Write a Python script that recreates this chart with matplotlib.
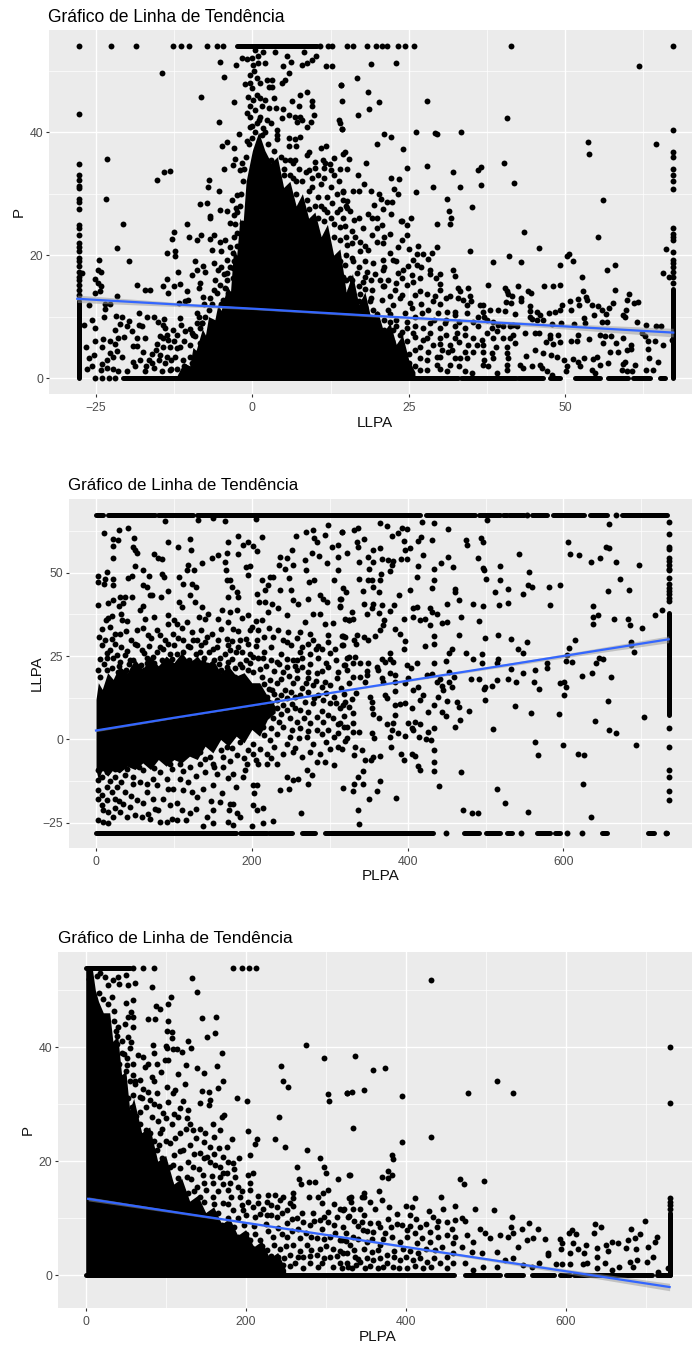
import matplotlib

matplotlib.use("Agg")
import matplotlib.pyplot as plt

plt.rcParams["font.family"] = ["Liberation Sans", "DejaVu Sans"]

W, H = 692, 1346

# ---- panel 1: LLPA x P ----
p1_points = [
    (-27.8, 43), (-27.8, 34.8), (-27.8, 33.1), (-27.8, 32.2), (-27.8, 31.3), (-27.8, 30.9), (-27.8, 29.1), (-27.8, 28.7), (-27.8, 27.5),
    (-27.8, 24.9), (-27.8, 24.4), (-27.8, 23.3), (-27.8, 21.9), (-27.8, 21.4), (-27.8, 20.6), (-27.8, 19.5), (-27.8, 19), (-27.8, 18.2), (-27.8, 17.3), (-27.8, 16.5), (-27.8, 16), (-27.8, 15.2), (-27.8, 14.4), (-27.8, 13.5),
    (-27.8, 54), (-22.6, 54), (-18.6, 54), (-12.7, 54), (-11.4, 54), (-10.1, 54), (-7.3, 54), (-5.7, 54), (-4.7, 54), (10.8, 54), (12.1, 54), (12.8, 54),
    (15.2, 54), (16.1, 54), (18.3, 54), (19.8, 54), (20.7, 54), (21.5, 54), (23.3, 54), (24.4, 54), (25.9, 54), (41.3, 54), (67.3, 54),
    (-23.2, 35.7), (-23.4, 29.1), (-14.4, 49.6), (-8.2, 45.7), (-5.3, 41.6), (-14.2, 33.5), (-13.1, 33.7), (-15.2, 32.2), (-7, 32.2), (-7.1, 31), (-5.4, 30.4), (-8.3, 28.3), (-7.3, 28.5),
    (-5.1, 51.4), (-2.6, 50.9), (-4.5, 48.9), (-2.9, 44.9), (-1.2, 47.9), (-4.9, 37.8), (-4, 38.4), (-3, 37.4), (-2.2, 39.7), (-2.7, 35.6), (-3.1, 34.7), (-4.6, 34), (-2, 33.9), (-1.7, 35),
    (-2.5, 29.8), (-3.2, 29), (-2.6, 27.6), (-5.2, 27.4), (-4.1, 27.1), (-6.8, 26.3),
    (-1.7, 52.1), (-0.9, 51.9), (0, 52), (0.9, 52.3), (2, 51.2), (0.1, 50.9), (0.9, 51.2), (0.4, 53.4), (1.7, 53.1), (3.6, 53), (0.2, 49.9), (0.7, 48.8), (-0.3, 49.3), (1.2, 48), (-0.1, 47.2), (-0.3, 48), (2.3, 48.5), (3.1, 48.5), (2.6, 47.4), (3.2, 47.3),
    (4.7, 48), (5.2, 48.5), (5.9, 49.6), (4.9, 50.8), (6.1, 51.4), (5.6, 52.3), (7.9, 50.9), (8.7, 51.3), (9.5, 51.8), (10.2, 52.3), (8.3, 53.1), (11.7, 50.7), (12.7, 50.7), (14.1, 47.7), (14.3, 45), (7.6, 46), (8.7, 46.6), (9.6, 45), (9.5, 44.3), (6.3, 45.1), (7.5, 44.2), (3.5, 45.5),
    (-0.7, 45.7), (0.7, 46.1), (0.1, 45.3), (1.2, 45.5), (2, 45.3), (-0.4, 44.2), (0.4, 43.6), (1.5, 44.2), (2.7, 43.9), (3.8, 43.9), (4.9, 43.7), (4.7, 42.3), (5.8, 42.8), (6.8, 42.5), (7.6, 42.5), (7.9, 42), (7.1, 41.7), (9.8, 42.8), (9.3, 41.6), (8.7, 40.9), (13.8, 42), (14, 41.4), (14.3, 40.5),
    (-0.9, 43.1), (-0.3, 42.5), (1.2, 42.5), (2.3, 42), (0.7, 41.5), (2.9, 41.4), (-0.4, 40.9), (1.7, 40.7), (3.9, 40.4), (5.8, 39), (6.8, 38.9), (7.6, 39.2), (7, 37.7), (5.8, 37.7), (4, 38.8), (10.9, 37.4), (11.8, 37.7), (9, 36.7), (8.7, 36.3), (14.8, 36.7), (14.5, 36.5),
    (6.8, 35.5), (6, 35.4), (5.2, 35.5), (10, 35.2), (11.3, 35.4), (11.6, 35), (12.4, 34.8), (13.1, 35.8), (10, 34.1), (11.4, 34.1), (12.5, 33.9), (9.1, 33.9), (15.2, 34),
    (5, 33), (6.5, 32.5), (8, 32), (9.5, 31), (11, 31.5), (12.5, 31), (13.8, 32), (14.5, 30.5), (7, 30), (8.8, 29), (10.5, 29.5), (12.8, 28.5), (6, 28.5), (9, 27.5), (11.5, 27.5), (13.5, 27), (15, 28), (10.5, 26), (13, 25), (14.5, 26),
    (16.8, 48.8), (14.2, 47.7), (18.5, 46.6), (20.2, 44.9), (28, 45), (18.6, 43.8), (16.9, 42.7), (40.7, 42.3), (19, 51.1), (22.9, 51.2), (61.8, 50.7), (14.4, 40.5), (21.1, 39.7), (22.1, 39.2), (26.1, 40), (29.2, 39.8), (29.6, 39.7), (33.4, 40), (67.3, 40.3),
    (19.9, 38.1), (24.1, 37.3), (53.6, 38.4), (53.8, 36.4), (64.6, 38.1), (67.3, 36.7), (67.3, 36), (67.3, 34), (67.3, 33), (67.3, 32.1), (67.3, 30.7), (15.4, 35.6), (18.2, 34.9), (28, 34.5), (24.7, 34.1), (32.1, 33.5), (36, 33.8), (36.6, 34.3), (40.2, 34.9), (16.9, 33), (22.2, 32.5), (23.4, 32.4), (17.8, 31.6), (41.9, 31.8), (28.9, 31.1), (33.2, 31), (36.5, 31.4),
    (22.7, 30.7), (23.3, 29.9), (26.2, 30.2), (16.1, 30.4), (17.1, 30.4), (19, 30.4), (20.2, 30), (14.5, 30.2), (20.5, 29.1), (21.6, 28.6), (22.4, 28.6), (31.2, 29.1), (56, 28.9), (15.2, 28.8), (19.4, 28.1), (20.9, 27.5), (35.2, 27.8), (31.5, 27.2), (15.1, 27.6), (15.6, 27.1), (18.5, 26.7), (22.2, 26.7), (31.7, 26.1), (25.3, 26), (19.1, 26), (20, 26), (16.2, 25.7), (23.8, 25.6),
    (31.6, 25.1), (29.5, 25.1), (23.9, 25.5), (24.7, 24.9), (24.7, 23.3), (17.7, 24.4), (14.8, 24.7), (20.7, 24.9), (19.9, 24.4), (19.1, 23.3), (19.9, 22.2), (20.9, 22), (17.2, 22.2), (16.4, 23), (15.1, 21.7), (18.5, 20.9), (17.2, 20.6), (23.3, 21.4), (22, 20.4), (26.5, 21.5), (29.5, 21.3), (28.8, 20.4), (27.3, 20.1), (26.4, 20.1),
    (22.5, 19.2), (20.9, 19.2), (19.3, 18.7), (16.1, 19), (14.8, 18.4), (25.7, 19.2), (28.1, 19.3), (24.9, 18.3), (26.4, 18.4), (24.1, 17.6), (23.3, 17.1), (28.4, 17.6), (32.1, 17.5), (28.4, 16.9), (32.4, 16.6), (20.9, 17.6), (18.3, 17.3), (16.7, 17.1), (19.6, 17), (14.5, 16.5), (15.6, 16.3), (17.7, 15.7), (20.4, 15.9), (21.7, 16), (23.9, 16.3), (25.5, 16.8), (26.8, 16.3), (29.4, 16.3), (25.7, 15.7), (30, 15.3), (24.7, 15.2), (32.9, 14.6), (34.5, 14.6), (26.8, 14.1), (30, 14.4), (33.2, 14.1), (22.8, 14.4), (20.9, 14.9), (19.1, 14.4), (15.6, 14.4), (17.2, 13.6), (34.8, 13.4), (27.9, 13.6), (29.2, 13.4), (31.6, 13.3), (32.9, 13), (33.7, 12.7), (23.6, 13), (20.7, 12.7), (18.8, 12.5), (28.9, 12.5), (30, 12), (25.2, 12.2), (22.5, 11.9), (15.3, 12.2), (34.3, 11.9), (36.4, 11.9), (36.9, 11.9),
    (25.5, 11.4), (28.1, 11.1), (31.1, 10.8), (32.4, 10.8), (34.3, 10.6), (36.8, 10.7), (39.3, 11.1), (19.3, 11.1), (17.2, 11.1), (21.7, 11.1), (24.4, 10.6), (27.1, 10.6), (29.7, 10.6), (32.4, 10.3), (36.1, 10), (37.5, 9.5), (35.3, 9.2), (38.5, 9.2), (22, 9.2), (24.7, 9.2), (28.4, 8.9), (30.8, 8.9), (39.3, 8.7), (41.7, 8.7),
    (32.4, 8.4), (34, 8.1), (36.1, 8.4), (38.3, 8.1), (40.1, 8.4), (41.2, 8.4), (42.3, 8.4), (30, 8.1), (27.3, 8.1), (24.7, 8.1), (22.5, 7.9), (19.3, 7.9), (32.7, 7.3), (37.5, 7.3), (39.1, 7.6), (41.7, 7), (41.2, 6.5), (40.1, 6.5), (38.5, 6.5), (35.3, 6.5), (36.7, 6.2), (28.4, 7.3), (25.7, 7.3), (23.6, 7), (20.9, 6.8), (32.4, 6.5), (30, 6.5), (27.3, 6.2), (24.7, 6), (22.3, 6), (34.5, 5.4), (35.9, 5.4), (36.9, 5.4), (42, 5.7), (40.7, 5.1), (31.6, 5.4), (28.9, 5.4), (26.8, 5.1), (19.9, 5.1), (17.2, 5.7),
    (35.3, 4.3), (36.9, 4.3), (31.3, 4.3), (30.3, 4.6), (28.1, 4.3), (26, 4.6), (23.1, 4.6), (20.9, 4.3), (38.3, 4.1), (40.7, 4.1), (34.3, 3.3), (33.2, 3.3), (32.4, 3.3), (38.5, 3.3), (40.9, 3.3), (29.5, 3.5), (26.8, 3.3), (24.1, 3.3), (22, 3.5), (18.8, 3.5), (16.7, 3.3), (36.9, 2.2), (37.7, 1.9), (40.7, 2.2), (31.6, 2.2), (29.5, 2.2), (27.9, 1.4), (24.7, 1.1), (22, 2.2), (19.9, 1.9), (17.7, 2.2), (15.1, 1.9), (34, 1.2), (35.1, 0.8), (39.1, 0.8), (40.7, 1.4), (31.1, 1.1), (26.8, 1.4),
    (43.4, 23.8), (45.8, 21.1), (55.2, 22.9), (67.3, 24.4), (67.3, 23.5), (67.3, 23), (67.3, 22.5), (66.1, 21), (67.3, 20.5), (67.3, 19.2), (67.3, 18.7), (67.3, 18), (67.3, 17.2), (67.3, 16.5), (67.3, 15.5), (34.8, 20.6), (38.5, 18.9), (41, 19.8), (43, 18.9), (49.2, 18.4), (50.3, 19.8), (50.7, 20.2), (51.2, 19.1), (56.7, 17.6), (58, 18.4), (52.7, 16.5), (65.6, 17.1), (66.6, 16.5),
    (37.7, 15.2), (40.4, 14.7), (40.7, 14.1), (42.5, 14.9), (44.1, 14.2), (44.5, 13.8), (46.6, 14.9), (48.1, 14.9), (49.2, 15.2), (52.8, 14.1), (58, 14.3), (60.2, 13.7), (40.9, 13.6), (41.5, 13.4), (40.5, 12.4), (41.3, 12.2), (42.9, 13), (42.9, 12.5), (44.4, 11.7), (49.5, 11.9), (50.8, 12.5), (52, 12.8), (52.3, 11.9), (53.3, 13.2), (53.5, 12.7), (54.3, 11.9), (55.2, 11.7), (55.9, 11), (57.1, 11.4), (57.6, 12.2), (59.9, 12.7), (61, 12.2), (61.6, 12.4),
    (40.4, 10.9), (42, 10.5), (44.4, 10.9), (44.4, 10), (45.5, 10.7), (46, 10.3), (47.4, 10.6), (48.4, 10.7), (49.2, 11), (50.9, 11.1), (54.7, 10.3), (56.6, 10.5), (59.8, 11), (59.2, 10.3), (59.6, 9.9), (44.7, 9.6), (45.5, 9.5), (46.5, 9.4), (47.9, 8.8), (49.4, 8.9), (51.5, 8.8), (53.1, 9.8), (53.2, 8.9), (55.9, 9.1), (56.7, 9.1), (61.5, 9.1), (62.9, 8.6), (64.6, 8.4), (65.3, 8.4),
    (43.6, 7.3), (45.2, 7.3), (45.8, 7.3), (47.6, 7), (48.8, 7), (47.6, 6.5), (47, 5.8), (48.1, 5.6), (49.2, 5.8), (51, 6), (51.9, 6), (52, 7), (53.9, 6.3), (55.6, 7), (56.4, 6.8), (57.3, 6.9), (58.2, 5.7), (59.2, 6.5), (60.6, 5.4), (60.6, 4.7), (62.3, 7.3), (62.8, 6.8), (63.3, 6.1), (64.4, 6), (65.7, 5.4), (67.1, 6.2), (56.1, 5.7), (57.2, 4.3), (58.5, 4.2), (59.9, 4.5), (63.2, 4.7), (63.5, 3.3), (64.8, 2.7),
    (43.8, 3.6), (45.2, 4.6), (46.5, 4.1), (47.7, 3.8), (48.7, 3.5), (49.8, 3), (51.2, 3.1), (52.1, 2.7), (53.1, 3.3), (54.5, 3.1), (55.1, 3.5), (56.8, 2.5), (59.6, 2.7), (59.3, 2.3), (42.8, 2.2), (43.2, 1.6), (44.7, 1.9), (46, 2.2), (46.3, 1.6), (47.1, 1.1), (47.9, 0.5), (50.3, 1.9), (50.2, 1.1), (52.4, 1.9), (54.3, 1.4), (54.8, 0.8), (55.6, 2.2), (59.1, 1.4), (59.9, 1.2), (61.2, 2.2), (60.7, 1.2), (63, 1.4), (64, 1.4),
    (-20.7, 25.1), (-21.7, 21.1), (-24.5, 19.2), (-19.7, 19.1), (-27.2, 17.1), (-24.7, 17.5), (-24.2, 17.2), (-25.2, 16.1), (-24.7, 15.4), (-24.2, 14.9), (-25.2, 13.9), (-24.4, 14.2), (-21.7, 13.3), (-26.1, 11.9), (-23.5, 12.1), (-22.8, 12.1), (-23.6, 11.2), (-23.7, 9.9), (-25.7, 9.4), (-27, 8.6), (-25.1, 8.1), (-21.8, 10.1), (-20.8, 9.9), (-19.7, 9.3), (-18.1, 10.6), (-21.2, 8.8), (-22, 7.8), (-20, 8.4), (-19.3, 7.6), (-18.1, 8.7), (-17.7, 8.4), (-16.8, 9.9), (-15.8, 9.9), (-15.1, 9.2), (-14.1, 9.6), (-14.3, 8.7), (-13.9, 8.1), (-12.7, 7.8), (-13.7, 7), (-14.8, 6.9), (-14.3, 6.5), (-13.5, 6.2), (-11.6, 9.8), (-11.4, 8.7), (-10.7, 7.6), (-9.7, 7.3), (-9.2, 6.8), (-8.9, 10.6), (-8.5, 10), (-8.9, 8.9), (-8.1, 8.9), (-8.4, 8.1),
    (-25.2, 6.1), (-26.6, 5), (-23.9, 6.3), (-24.1, 5.1), (-22.8, 6), (-22, 5.6), (-21.5, 6.5), (-20.5, 6.7), (-18.4, 6.5), (-17.2, 6.5), (-19.1, 5.3), (-18.4, 5.3), (-17.5, 4.3), (-15.3, 5.6), (-15.4, 4.6), (-14.3, 5.1), (-13.2, 5), (-12.1, 4.9), (-10, 5.4), (-8.4, 5.7), (-25.3, 3.8), (-26.2, 3.3), (-22.8, 4.1), (-21.7, 4.4), (-22.3, 3.5), (-20.8, 3.4), (-23.3, 3), (-24.1, 2.3), (-19.1, 2.7), (-18, 2.9), (-18.8, 1.9), (-16.1, 2.4), (-14.8, 3.8), (-13.7, 3.5), (-12.4, 3.5), (-11.1, 3), (-9.7, 2.4), (-8.9, 4.1), (-26.5, 1.5), (-25.7, 1.9), (-24.2, 1.4), (-23.3, 1.6), (-22.3, 1.5), (-21.5, 1.1), (-20, 1.1), (-17.2, 1.1), (-15.8, 1.6), (-14.5, 1.2), (-13.2, 1.4), (-12.1, 1.5), (-10.8, 1.4), (-9.5, 0.8), (-7.3, 1.6), (-5.7, 1.9),
    (-25.2, 0), (-24.1, 0), (-23, 0), (-22, 0),
    (-10.4, 25.1), (-12.5, 23.8), (-12.8, 22.6), (-10.1, 23), (-8.8, 22.5), (-8.2, 23.3), (-13.7, 20.4), (-12.4, 20.7), (-12.3, 19.8), (-9.1, 19), (-6.8, 26), (-6.1, 23.3), (-6.8, 22.6), (-6.4, 20.9), (-5.2, 22.2), (-4.4, 22.5), (-3.6, 21.4), (-5, 20.6), (-4.1, 19.2), (-6.2, 18.7), (-7.9, 18.2), (-8.8, 17.5), (-11.9, 17.2), (-9.7, 16.7), (-7.5, 17.3), (-13.6, 16.1), (-11.6, 15.3), (-8.4, 15.4), (-14.3, 14.9), (-12.6, 15), (-13.5, 13.9), (-8.6, 14.6), (-10.5, 14.1), (-6.2, 14.4), (-5.2, 15.2), (-4.4, 14.6), (-5.7, 13.8), (-18.5, 15.2), (-17.1, 14.4), (-16.4, 14.4), (-10.3, 12.7), (-7.9, 13.2), (-6.8, 13), (-7.7, 12), (-11.8, 12.2), (-10.8, 12.5), (-4.1, 17.1), (-3.1, 17.9), (-3.1, 16.3), (-2, 18.7), (-3.6, 25.2), (-2.5, 23.6), (-1.7, 25.2), (-3.1, 20.3), (-3.9, 13.8), (-4.7, 12.7),
]
p1_extra = [
    (-6, 16), (-5.5, 17.5), (-5, 18), (-4.5, 17), (-4, 16), (-3.5, 18), (-3, 19), (-5, 12), (-6.5, 12), (-7, 11), (-7.5, 10), (-8, 9), (-9.5, 7), (-10, 8), (-11, 6), (-11.5, 5), (-12, 7), (-12.5, 6), (-13, 3), (-11, 2), (-10, 3.5), (-9, 2), (-8, 3), (-7.5, 5), (-16, 4), (-16.5, 3), (-17, 2), (-15, 3), (-14, 2.5), (-13, 1.5),
    (-3, 23), (-2.8, 25), (-2.5, 27), (-2.5, 21.5), (-3, 26.5), (-2, 28), (-1.8, 30), (-1.5, 32), (-1.3, 34), (-1, 36), (-0.5, 38), (0, 39), (0.5, 40), (1.5, 39.5), (2.5, 38), (3.5, 37), (3, 35.5), (4.5, 36), (5, 34), (6, 33), (7, 32), (4, 39.5), (0, 41), (-0.8, 38.5), (1, 42), (2, 40),
    (6.5, 35), (7.5, 34), (8.5, 33.5), (9.5, 32.5), (10.5, 33), (11.5, 32.5), (13, 33), (14, 34), (12, 29.5), (13.5, 30), (14.5, 29), (9, 30.5), (10, 28), (11, 28), (12, 27), (14, 27.5), (11.5, 25.5), (12.5, 26), (14, 24.5), (15, 23), (16, 22), (14, 22.5), (13, 23), (15, 20), (16, 19.5), (14, 19), (16, 16), (17, 15), (18, 14.5), (15, 16), (17, 18), (18, 19), (19, 16), (19, 13), (17, 12.5), (18, 11.5), (20, 10.5), (21, 9.5), (19, 9.8), (22, 10.5), (23, 9.5), (20, 8), (21, 7.8), (23, 8.5), (24, 7.5), (26, 8.5), (22, 5), (21, 3), (23, 2.5), (25, 2.5), (26, 2), (28, 3), (30, 1.5), (33, 2), (25, 4), (28, 6.5), (30, 5.5), (32, 4.5), (34, 4.3), (26, 6.7), (31, 7), (33, 5.8), (29, 9.5), (31, 9.5), (33, 9.2), (26, 10), (27, 12), (24, 13.5), (26, 13.5), (22, 13.3), (21, 15), (23, 15.5), (18, 16.5), (25, 21), (24, 22.5), (22, 23.5), (27, 18), (30, 17), (31, 13), (35, 12.5), (37, 10), (38, 11), (30, 3.5), (37, 3), (39, 5), (34, 7), (21, 18), (18, 21.5), (16, 24), (17, 26), (21, 23), (23, 19),
]
p1_band_x = [-12, -11, -10, -9.5, -9, -8, -7.5, -7, -6, -5.5, -5, -4, -3.5, -3, -2.5, -2, -1.5, -1, 0, 1, 2, 3, 4, 5, 6, 7, 8, 9, 10, 11, 12, 13, 14, 15, 16, 17, 18, 19, 20, 21, 22, 23, 24, 25, 26]
p1_band_hi = [0.5, 2.5, 2, 5, 4.5, 8, 7, 10, 9.5, 12, 11, 15, 14, 21, 20, 26, 25, 32, 37, 40, 37, 35, 36, 31, 32, 28, 30, 26, 27, 23, 25, 20, 21, 14, 17, 12, 14, 9.5, 11, 7.5, 9, 5.5, 7, 3, 1]
p1_rows_y = [0, 0, 0, 0, 0, 0, 0, 0, 54]
p1_rows_start = [-20.7, 33.3, 42.5, 47.6, 51.6, 56.9, 60.9, 65.2, -2.5]
p1_rows_end = [32.9, 42.2, 46.5, 49.2, 55.6, 60.1, 63.6, 66, 10.3]
p1_cols_x = [-27.8, 67.3]
p1_cols_start = [0, 0]
p1_cols_end = [12.5, 14.5]
p1_trend_x = [-28, -10, 0, 20, 45, 67.3]
p1_trend_y = [12.9, 11.85, 11.3, 10.1, 8.7, 7.4]
p1_trend_se = [0.6, 0.3, 0.15, 0.2, 0.35, 0.7]

# ---- panel 2: PLPA x LLPA ----
p2_points = [
    (88.6, 65.5), (131, 65.7), (150.7, 66.4), (165.7, 65.5), (205.5, 66), (10.7, 61.7), (29.5, 62.7), (41.5, 63.3), (48.8, 60.2), (22.3, 59.9), (28.7, 59.7), (22.3, 57.9), (92, 59.2), (104.9, 57.7), (120.7, 59.9), (121.6, 56.7), (47.1, 57.7), (50.1, 56.7), (53.1, 55.9), (74.5, 55.4), (80, 54.2), (84.3, 54), (21.4, 54.3), (50.1, 51.9), (14.6, 50.2), (60.8, 50.7), (2.1, 49.1), (68.1, 49), (84.3, 49.7), (87.3, 48.7), (41.5, 48.5), (45.8, 48.9), (106.6, 48.7), (3, 47.2), (11.6, 48.2), (10.3, 46.7), (21.4, 48.2), (22.3, 46.2), (60.8, 46.2), (65.1, 45.7), (112.2, 46.5), (123.7, 46.7), (128.4, 45.7), (92.9, 44.5), (69.3, 43.4), (72.3, 43.2), (83.5, 42.7), (120.7, 43.2), (22.3, 41.9), (15.8, 40.9), (30.8, 42.7), (37.2, 42.7), (45.8, 42.7), (2.1, 40.3), (29.5, 39.9), (34.2, 40.9), (56.5, 38.7), (60.8, 39.9), (107, 41.2), (110, 39.7), (127.1, 41.2), (135.7, 39.7), (31.7, 37.7), (20.1, 36.9), (12.4, 35.9), (92.9, 37.2), (62.9, 36.2), (33, 35.7), (132.3, 36.7), (144.3, 37.7), (157.1, 36.2), (161.4, 38.7), (172.1, 38.2), (180.7, 38.7), (195.6, 37.2),
    (169.1, 59.2), (182.8, 61), (189.2, 58.2), (195.6, 59.2), (202, 57.9), (212.7, 60.7), (207.2, 56.4), (182.8, 55.4), (167.8, 55.7), (165.7, 53.2), (157.1, 55.2), (149.4, 54.2), (135.7, 52.7), (117.7, 52.2), (116.4, 50.9), (125.9, 50.9), (166.5, 50.7), (192.6, 51.7), (197.8, 51.9), (194.8, 49.4), (167.8, 47.9), (172.1, 47.9), (174.2, 45.7), (180.7, 44.2), (170, 42.7), (182.8, 42.7), (206.7, 43.5), (209.7, 41.2), (212.7, 47.9), (223.4, 48.7), (227.7, 48.7), (221.3, 46.2), (217, 44.7), (236.3, 44.7), (217, 41.2), (225.6, 40.7), (234.2, 39.5), (221.3, 38.2), (212.7, 35.7), (236.3, 54.7), (235.4, 52.2), (244.9, 54.2), (242.8, 51.2), (253.4, 52.2), (251.3, 56.7), (256.8, 61), (269.7, 62.2), (279.1, 62.7), (280, 60.2), (294.1, 61.2), (298.4, 64.2), (315.5, 62.2), (284.1, 59.2), (311.2, 58.2), (303.5, 57.5), (277, 55.7), (285.6, 54.9), (310.3, 54.7), (321.9, 55.7), (268.4, 53.7), (296.6, 52.9), (269.7, 50.9), (311.2, 50.7), (248.2, 48.5), (273.9, 47.2), (280.3, 47.7), (305.1, 47.7), (250.3, 44.7), (272.7, 42.2), (287.7, 43.2), (292, 42.2), (313.3, 42.2), (253.4, 41.9), (259.8, 40.7), (297.1, 41.2), (313.3, 39.7), (244.9, 37.2), (278.3, 37.7), (287.7, 37.7), (268.4, 35.2), (304.3, 34.9), (293.6, 34.5), (324.1, 35.7),
    (234.2, 32.7), (247, 32.2), (262, 32.2), (274.8, 31.7), (279.1, 29.7), (272.7, 28.7), (227.7, 30.7), (244.9, 29.2), (298.4, 31.2), (317.6, 30.9), (298.4, 29.2), (316, 28.2), (307.4, 27.2), (290.5, 27), (281.8, 27.2), (264.5, 24.3), (253.4, 23.8), (232, 23.3), (298.4, 21.8), (321.9, 24.3), (244.9, 21.8), (264.5, 21.8), (283.6, 19.8), (294.1, 17.3), (309.1, 18.3), (272.7, 18.3), (253.4, 16.8), (264.5, 15.3), (279.1, 16.3), (289.8, 15.8), (232, 16.8), (242.8, 14.8), (223.4, 17.8),
    (18, 33.7), (24.4, 31.7), (30.8, 31.7), (3.4, 30.7), (11.6, 29.7), (24.4, 28.7), (18, 26.7), (26.5, 25.2), (37.2, 25.2), (13.7, 24.3), (30.8, 23.3), (43.7, 23.8), (52.2, 28.2), (67.2, 31.2), (52.2, 32.7), (82.2, 31.2), (58.6, 26.7), (73.6, 24.7), (92.9, 28.7), (99.3, 31.7), (103.6, 34.7), (92.9, 34.7), (116.4, 35.2), (112.2, 29.7), (86.5, 27.2), (103.6, 25.7), (122.9, 32.2), (129.3, 29.7), (120.7, 27.7), (140.4, 29.2), (133.6, 26.2), (148.5, 31.7), (157.1, 29.7), (150.7, 27.2), (167.8, 30.2), (176.4, 33.2), (184.9, 29.7), (197.8, 32.7), (208.5, 32.7), (195.6, 28.7), (206.7, 29.7), (172.1, 26.7), (187.1, 26.2), (202, 24.7), (214.9, 24.3), (159.2, 24.3), (137.8, 23.3), (116.4, 22.3), (90.8, 21.8), (65.1, 22.8), (52.2, 21.8), (28.7, 20.3), (13.7, 20.8), (3, 20.8), (5.1, 18.8), (187.1, 21.8), (167.8, 21.8), (146.4, 21.3), (202, 20.3), (212.7, 18.8), (178.5, 18.8), (155, 18.8), (133.6, 19.8),
    (225.6, 14.8), (219.2, 12.8), (232, 11.8), (244.9, 12.3), (255.6, 12.8), (232, 9.3), (244.9, 8.8), (262, 8.8), (279.1, 10.8), (300.5, 10.8), (313.3, 9.3), (304.3, 6.3), (283.6, 6.8), (266.4, 6.3), (249.1, 6.3), (227.7, 6.3), (214.9, 3.8), (240.6, 3.8), (262, 3.3), (283.6, 2.8), (298.4, 2.8), (321.9, 3.8), (311.2, 1.8), (270.6, 0.8), (249.1, 0.8), (223.4, -0.2), (202, -1.2), (184.9, -0.7), (167.8, -2.2), (150.7, -1.7), (133.6, -3.7), (146.4, -5.2), (163.5, -5.2), (180.7, -4.7), (202, -4.2), (219.2, -4.2), (240.6, -4.2), (253.4, -3.7), (264.1, -5.2), (287.7, -4.2), (311.2, -2.2), (306, -7.7), (283.4, -6.7), (294.1, -6.7), (270.6, -9.2), (277, -10.7), (272.7, -13.2), (253.4, -12), (259.8, -11.7), (244.9, -11.2), (232, -7.2), (219.2, -7.2), (208.5, -7.2), (193.5, -7.2), (191.4, -9.2), (176.4, -10.2), (189.2, -11.2), (163.5, -8.2), (150.7, -7.2), (133.6, -7.2), (120.7, -8.2), (107.9, -7.2), (95, -7.2), (82.2, -9.7), (90.8, -11.7), (107.9, -11.7), (118.6, -12.7), (99.3, -14.7), (123.7, -15.7), (137.8, -14.7), (150.7, -13.7), (161.4, -16), (179.8, -14.2), (202, -13.7), (206.3, -13.7), (203.3, -16), (236.3, -15.2), (248.3, -14.9), (158.9, -18.7), (172.1, -19.2), (176.4, -19.2), (171.2, -21.2), (180.7, -22), (184.9, -23.2), (202, -19.7), (206.3, -21.2), (214.9, -20.4), (263.3, -22), (214.9, -25.1), (226.9, -24.4), (199.9, -25.9), (170, -24.6), (176.4, -25.6), (150.7, -25.1), (142.1, -23.2), (137.8, -26), (115.6, -24), (120.7, -22), (103.6, -19), (103.6, -24.2), (97.2, -23.7), (90.8, -24.7), (82.2, -24.7), (75.8, -20.7), (67.2, -22.2), (58.6, -23.2), (69.3, -23.7), (65.1, -15.7), (56.5, -12.7), (65.1, -13.2), (53.1, -18.2), (43.7, -20.2), (39.4, -23.2), (30.8, -21.7), (22.3, -23.2), (15.8, -25.1), (3, -24), (9.4, -24.7), (15.8, -21.7), (9.4, -21.2), (13.7, -18.2), (24.4, -17.7), (37.2, -15.7), (26.5, -14.2), (13.7, -14.2), (3, -15.2), (3, -12.2), (3, -9.2), (13.7, -9.7), (24.4, -11.2), (37.2, -10.7), (47.9, -11.2), (60.8, -9.2), (73.6, -11.7), (86.5, -17.7), (73.6, -17.7), (35.1, -19.2), (3, -17.7),
    (364.7, 64.7), (373.2, 63.9), (418.2, 65.2), (433.2, 64.7), (501.7, 65.7), (657.9, 64.4), (315.4, 62.2), (331.3, 62.7), (336.8, 63.2), (379.7, 61), (388.2, 61.7), (392.5, 63.2), (398.9, 63), (452.4, 63), (417.3, 60.7), (413, 59.4), (395.9, 59.4), (431.9, 59.7), (344.1, 59.9), (335.6, 59.2), (336.8, 57.5), (355.3, 56.7), (364.7, 57.2), (396.8, 56.7), (403.2, 57.2), (474.7, 59.7), (476.8, 58.2), (494, 60.4), (496.5, 59.2), (605.2, 59.2), (608.7, 55.5), (619.4, 55.2), (654.5, 57.5), (657.9, 57.2), (543.2, 55.5), (338.1, 53.2), (349.7, 54.7), (356.1, 53.2), (366.8, 53.9), (374.5, 53.7), (381.8, 53.5), (391.2, 53.9), (399.8, 54), (419.5, 55.2), (452.4, 54.7), (490.1, 54.4), (635.2, 53), (647.2, 54.2), (667.3, 53.2), (697.3, 52.2), (413.9, 51.9), (442.6, 52.7), (458, 51.5), (433.2, 51), (496.5, 51.4), (498.2, 50.9), (518.8, 51.9), (379.7, 52.2), (377.5, 50.5), (350.5, 51), (366, 49.7), (556, 50.2), (412.6, 48.7), (338.1, 48.2), (349.7, 47.9), (354, 47.7), (364.7, 47.7), (434.4, 47.7), (500.4, 48), (518.8, 47.7), (672, 48.2), (355.3, 45.7), (316.7, 45.4), (321, 44.2), (343.3, 44.5), (363.8, 44.2), (389.5, 43.4), (402.8, 44.9), (431.9, 45.4), (460.6, 45.2), (460.6, 44.2), (511.5, 44.2), (528.6, 45.2), (553.9, 46.2), (559.4, 45.7), (580.9, 45.7), (595.4, 46.2), (656.6, 44.5), (684, 44.9), (548.7, 43.7),
    (314.2, 42.2), (313.3, 39.9), (344.5, 40.7), (356.1, 40.7), (354, 39.5), (366.8, 40.2), (382.6, 40.4), (466.1, 41.7), (451.1, 40.7), (484.5, 40.7), (496.5, 39.9), (517.9, 40.4), (528.6, 41), (582.1, 40.4), (637.4, 39.9), (406.6, 39.4), (412.6, 39.7), (428.9, 39.4), (377.5, 38.5), (363.8, 37.9), (347.5, 37.5), (431, 38.2), (437.4, 37.7), (328.3, 38.2), (330.4, 36.2), (319.7, 36.2), (325.3, 35.7), (395.9, 36.2), (407.5, 36.7), (416, 35.7), (422.5, 36.2), (468.7, 36.7), (450.3, 35.2), (443.9, 35), (492.2, 35.4), (637.4, 36.7), (644.2, 37.4), (664.3, 36.2), (682.7, 36.2), (637.4, 34.7), (684.9, 34.2), (700.7, 33.4), (717.4, 37.4), (726.4, 38.7),
    (370.2, 35.7), (369, 34.2), (364.7, 32.9), (358.2, 31), (383.9, 33), (390.4, 31.7), (428.9, 34.4), (433.2, 31), (466.1, 31.4), (498.7, 30.4), (516.6, 31.2), (533.3, 30), (552.6, 29.2), (614.7, 29.7), (686.6, 29.2), (334.7, 31.2), (344.1, 30.7), (349.7, 29.7), (331.3, 29.7), (333.8, 28.5), (315.4, 30.9), (319.7, 30.7), (316.7, 28.2), (396.8, 29.5), (395.9, 27.2), (434, 28.7), (422, 27.9), (456.7, 27.2), (453.3, 25.9), (474.7, 25.9), (495.2, 25.7), (541.9, 27), (548.7, 26), (606.5, 27.4), (604.4, 25.2), (686.6, 28.2), (690, 26.2),
    (324.9, 24.6), (332.6, 24.7), (377.5, 25.9), (377.5, 24.2), (366.8, 24.2), (371.1, 23.3), (381.8, 23.3), (484.5, 24), (516.6, 24.2), (514.5, 22.8), (495.2, 22.8), (449.4, 23.6), (433.2, 23), (411.7, 22.8), (398.9, 22.3), (404, 21.3), (349.7, 23), (339, 22.8), (319.7, 22.3), (330.4, 22.8), (360.4, 21.8), (362.5, 20.8), (347.5, 20.5), (321.9, 20.8), (645.1, 24.4), (650.6, 24), (642.1, 22.9), (603.1, 23.5), (610.8, 23.1), (578.7, 22.8), (578.7, 21.5), (563.7, 20.8), (532.1, 21), (547.5, 19.8), (636.5, 19.8), (623.7, 18.9), (661.3, 18.6),
    (377.5, 19.8), (384, 19.3), (366.8, 18.3), (369, 17.3), (347.5, 19.3), (339, 18.8), (330.4, 18.6), (345.4, 17.3), (424.6, 19.3), (431.9, 19.5), (453.3, 20.3), (458.9, 18.8), (441.7, 18), (437.4, 17.1), (453.3, 17.3), (481.5, 18.1), (492.2, 18.1), (514.5, 17.8), (528.2, 18.1), (539.3, 17.3), (561.6, 17.3), (401.1, 18.3), (396.8, 16.8), (384, 17.3), (443.9, 16), (446, 14.8), (456.7, 15.8), (413.9, 15.6), (407.5, 14.8), (384, 14.6), (499.5, 15.8), (497.4, 15), (508.1, 16), (568, 15), (595, 16.8), (601, 17.1), (603.5, 15.6), (600.1, 13.4), (333.4, 13.8), (351.8, 12.8), (354, 11.3), (371.1, 13.3), (373.2, 12.3), (420.3, 13.3), (416, 11.8), (439.6, 12.8), (451.1, 11.5), (464, 11.3), (465.3, 9.8), (498.7, 11.8), (656.6, 11.5),
    (319.7, 11.3), (316.7, 10.3), (354.8, 9.3), (384, 10.3), (390.4, 10.5), (396.8, 10.8), (405.3, 9.3), (426.7, 8.3), (434, 10.3), (443.9, 8.3), (479.4, 8.6), (538, 10), (558.2, 7.8), (594.1, 7.5), (384, 7.3), (329.6, 7.8), (356.1, 7.5), (449.4, 7), (362.9, 6.3), (467.4, 5.8), (702.9, 6.6), (640.8, 5.6), (313.3, 4.8), (318.4, 3.8), (329.6, 4.8), (373.2, 4.5), (381.8, 4.8), (401, 4.8), (409.6, 5.3), (416, 4.6), (405.3, 3.3), (379.7, 2.8), (388.2, 1.8), (396.8, 1), (407.5, 2.8), (433.2, 3.3), (425.5, 2.1), (460.6, 3.6), (509.4, 3), (657.9, 2.7), (667.3, 1.9), (330.4, 2.1), (337.7, 2.1), (354, 1.8), (377.5, 0.8), (357.4, 0.3), (414.8, 0.6), (423.7, 0), (429.7, -0.2), (322.7, 0.3),
    (316.3, -2.7), (332.6, -2.2), (341.1, -3.2), (331.3, -4.5), (379.2, -2.2), (433.2, -3.2), (563.3, -0.9), (598.8, -1.7), (693.4, -1.5), (392.1, -4.2), (405.3, -4.2), (409.6, -4.9), (356.1, -5.2), (364.7, -4.9), (352.7, -6.2), (345.4, -6.2), (395.5, -6.2), (433.2, -6.7), (566.7, -4.5), (618.1, -4.3), (625.8, -4.5), (413.9, -8), (416, -9.2), (433.2, -9.5), (468.7, -9.8), (343.3, -9.5), (336.8, -11.2), (364.7, -12.3), (331.3, -13.2), (343.3, -13.2), (316.7, -14.5), (329.6, -15.4), (361.2, -15.4), (440, -14), (514.1, -14.9), (625.4, -13.4), (384.8, -17.4), (350.1, -17.9), (524.8, -19), (336, -21), (471.3, -21), (483.2, -21.9), (490.1, -22), (554.7, -21.8), (634.8, -23.2), (338.1, -25.4),
    (735, 65.2), (735, 61.4), (735, 57.5), (735, 57), (735, 54.2), (735, 53.5), (735, 52.2), (735, 51), (735, 50.7), (735, 48.5), (735, 46.7), (735, 45.5), (735, 44.5), (735, 43.5), (735, 42.5), (735, 41.5), (735, 3.3), (735, -2.2), (735, -9), (735, -11.2), (735, -15.4), (735, -18.2), (731, -27.9), (449, -27.9), (545, -27.9), (604, -27.9), (624, -27.9), (667, 67.2), (553, 67.2),
]
p2_extra = [
    (15, 36.3), (40, 35.4), (75, 36.6), (100, 35.8), (140, 36.1), (170, 35.2), (188, 36.4), (205, 35.6), (8, 33.2), (38, 32.6), (60, 33.4), (78, 32.9), (110, 33.5), (135, 32.8), (160, 33.1), (182, 32.4), (200, 33.6), (222, 33.3),
    (20, 30.2), (45, 29.7), (70, 30.4), (88, 29.8), (105, 30.3), (125, 29.9), (142, 30.6), (175, 29.6), (192, 30.2), (215, 30.7), (240, 29.8), (258, 30.3), (8, 28.3), (32, 27.8), (50, 28.5), (68, 28), (82, 27.7), (100, 28.3), (118, 27.9), (135, 28.4), (155, 27.8), (170, 28.3), (182, 27.6), (205, 28), (225, 27.7), (250, 28.2), (265, 27.6), (285, 28),
    (14, 26), (40, 26.4), (62, 25.8), (78, 26.3), (95, 25.7), (112, 26.2), (128, 25.6), (145, 26.1), (165, 25.7), (180, 26.2), (198, 25.6), (215, 26.1), (238, 25.7), (262, 26.2), (275, 25.6), (300, 26), (5, 24), (22, 24.4), (48, 23.8), (65, 24.3), (85, 23.7), (98, 24.2), (120, 23.8), (138, 24.4), (152, 23.8), (175, 24.2), (192, 23.7), (208, 24.3), (225, 23.8), (245, 24.2), (258, 23.7), (285, 24.3), (308, 23.8),
    (10, 22.5), (30, 22), (42, 22.7), (58, 22.2), (75, 22.8), (92, 23), (108, 22.3), (125, 22.8), (140, 22.2), (158, 22.7), (170, 23.2), (185, 22.5), (198, 22.8), (218, 22.1), (235, 22.6), (255, 22), (275, 22.5), (295, 23), (318, 22.4), (20, 21.5), (38, 20.9), (48, 21.4), (62, 20.8), (82, 21.3), (100, 20.8), (115, 21.2), (128, 20.7), (142, 22.2), (160, 20.8), (178, 21.3), (195, 20.7), (210, 21.2), (228, 20.6), (240, 20.2), (258, 20.7), (272, 20.2), (290, 20.6), (310, 20.1),
    (215, 16.5), (222, 15.2), (238, 18.2), (248, 19), (258, 18.5), (270, 16.8), (283, 17.5), (300, 16.2), (315, 15.3), (325, 17), (228, 13.7), (238, 13.2), (250, 14.3), (262, 13.4), (272, 14.2), (285, 13.2), (295, 14), (305, 12.8), (318, 13.6), (328, 12.2), (225, 10.8), (240, 10.3), (252, 10.6), (268, 11.2), (280, 12.4), (292, 11.7), (308, 11), (325, 9.8), (222, 8.2), (238, 7.5), (255, 9.5), (272, 8.3), (290, 8.6), (298, 7.4), (318, 7), (215, 6.3), (235, 5.2), (258, 5.3), (275, 4.8), (292, 5.2), (310, 4.6), (225, 3.4), (252, 2.8), (272, 2.4), (290, 1.7), (305, 0.8), (215, 1.2), (232, 1.6), (245, -1.2), (260, 0.3), (278, -1.2), (295, -0.8), (320, -0.5), (210, -2.8), (228, -2.2), (255, -2.5), (275, -3.6), (300, -2.8), (195, -3), (175, -2.5), (160, -3.2), (140, -5.8), (152, -8.2), (172, -6.5), (190, -5.6), (205, -6), (225, -5.6), (170, -11.5), (155, -10.3), (140, -9.7), (128, -10.8), (112, -9.3), (98, -8.8), (75, -8.5), (55, -8.2), (40, -8.7), (25, -8.8), (8, -8.6), (8, -11.2), (18, -12.5), (32, -12.8), (48, -13.2), (78, -13.6), (92, -14.8), (112, -15.2), (130, -17.2), (148, -18.5), (20, -15.8), (8, -16.7), (30, -18.4), (45, -17), (60, -19), (80, -21.2), (95, -19.5), (110, -21), (128, -20.8), (50, -22.5), (25, -20.4), (8, -19.5), (150, -21),
]
p2_band_x = [0, 3, 8, 15, 22, 30, 40, 50, 60, 70, 80, 90, 100, 110, 120, 130, 140, 150, 160, 170, 180, 190, 200, 210, 220, 230]
p2_band_lo = [-9, -12, -9, -11, -9, -10, -8, -9, -7, -9, -6, -8, -6, -7, -5, -6, -2, -4, 0, -2, 1, -1, 3, 1, 6, 8]
p2_band_hi = [12, 17, 15, 20, 18, 22, 20, 24, 21, 25, 22, 25, 23, 26, 23, 25, 22, 24, 20, 22, 19, 20, 17, 17, 13, 10]
p2_rows_y = [67.2] * 12 + [-27.9] * 15
p2_rows_start = [0, 16, 80, 130, 424, 491, 523, 530, 560, 587, 634, 675] + [0, 185, 222, 264, 294, 472, 500, 527, 566, 589, 649, 709, 731, 735, 735]
p2_rows_end = [9, 76, 125, 416, 487, 518, 527, 549, 579, 626, 656, 733] + [180, 219, 251, 281, 433, 491, 519, 534, 583, 596, 656, 716, 733, 736, 736]
p2_cols_x = [735]
p2_cols_start = [7.3]
p2_cols_end = [38]
p2_trend_x = [0, 100, 300, 500, 600, 735]
p2_trend_y = [2.7, 6.5, 13.9, 21.3, 25, 30]
p2_trend_se = [0.35, 0.2, 0.2, 0.4, 0.6, 1.0]

# ---- panel 3: PLPA x P ----
p3_points = [
    (59.6, 53.9), (72.1, 53.9), (85.4, 53.9), (183.8, 53.9), (195.8, 53.9), (204.6, 53.9), (212.5, 53.9),
    (133.3, 52.1), (139.2, 49.7), (82.9, 50.5), (106.7, 48.8), (103.3, 47.6), (87.9, 47.2), (92.9, 46.6), (61.7, 51.3), (52.5, 50.8), (50, 52.7), (40.8, 52.3), (34.6, 51.7), (41.7, 51.1), (28.3, 50.8), (33.3, 48.7), (59.6, 48.2), (50, 47.8), (78.3, 44.9), (86.7, 44.9), (103.3, 44.5), (145, 45), (162.9, 45.3), (49.2, 44.1), (53.3, 45.2), (59.6, 45.3), (56.3, 46.2), (59.6, 43.5), (101.3, 42.8), (108.3, 42.7), (108.3, 41.5), (151.3, 41.8), (161.7, 42.4), (127.5, 41), (37.9, 42.8), (38.8, 41.9), (53.3, 41.8), (56.3, 40.9), (38.8, 40.6), (55.4, 39.8), (84.6, 40.3), (85.4, 39), (100, 40.2), (101.3, 39.8), (109.6, 39.6), (114.6, 39.6), (120.8, 39.2), (132.1, 39.8), (170.8, 38.9), (275.4, 40.3), (298.3, 38), (35.4, 39.2), (45, 38.9), (34.6, 38), (65.8, 38.6), (72.1, 38.2), (99.2, 37.8), (103.3, 37.8), (59.6, 37.1), (51.3, 36.8), (88.8, 37.1), (78.3, 37.1), (74.2, 36.5), (125.4, 36.8), (138.8, 36.4), (164.6, 36.7), (243.8, 36.7), (93.8, 35.7), (148.3, 35.4), (115, 35.2), (59.6, 35.1), (47.1, 34.8), (82.9, 34.8), (85.4, 34.1), (67.9, 34.2), (172.1, 34.1), (247.1, 34), (124.6, 33.5), (101.3, 33), (165, 32.9), (253.3, 33), (145.8, 32.3), (154.6, 32.2), (111.7, 32.5), (108.8, 31.9), (72.1, 32.7), (78.3, 32.2), (88.8, 31.9), (59.6, 31.6), (303.3, 31.7), (326.3, 32),
    (188.8, 31), (202.1, 30.6), (304.6, 30.6), (155.4, 30.8), (142.9, 30.2), (154.6, 29.9), (102.5, 30.3), (92.1, 29.7), (80.4, 30.7), (117.9, 29.4), (128.3, 29), (172.5, 28.1), (170, 27.7), (242.1, 27.8), (97.1, 28.4), (115.8, 27.8), (126.3, 27.5), (82.5, 27.8), (67.9, 28.7), (107.3, 26.6), (130.4, 26.6), (159.2, 26.5), (134.6, 25.5), (142.9, 25.7), (168.3, 25.5), (203.3, 25.3), (149.2, 25), (92.9, 24.9), (117.9, 24.9), (160.4, 24.2), (147.9, 23.4), (182.5, 23.8), (213.8, 23.8), (236.7, 23.8), (211.3, 23), (177.1, 22.5), (167.1, 22.3), (249.2, 22.5), (155.4, 22.5), (105.4, 23.1), (130.4, 22.8), (88.8, 21.9), (117.9, 21.7), (142.9, 21.4), (277.1, 22), (205.4, 21), (151.3, 20.8), (172.1, 20.8), (192.1, 20.5), (292.9, 20.6), (161.7, 19.3), (178.3, 19.9), (184.6, 19.6), (109.6, 19.3), (134.6, 19), (263.8, 18.9), (298.3, 19), (185.8, 18.6), (176.3, 17.9), (208.8, 18), (203.3, 17.5), (300.4, 18), (147.1, 17.6), (126.3, 17.3), (167.9, 17.3), (186.7, 17.3), (205.4, 16.1), (266.3, 16.8), (315.8, 16.8), (329.6, 17.5), (269.6, 16), (278.8, 16.3), (286.3, 16.3), (105.4, 16.1), (138.8, 15.5), (159.6, 16.1), (180.4, 16.1), (190.8, 15.5), (205.4, 14.9), (303.3, 14.9), (297.1, 14.4), (290.4, 13.8), (259.6, 14.5), (259.6, 13.5), (279.6, 13.7), (215.8, 13.9), (228.3, 14.1), (236.7, 14.1), (247.1, 13.8), (242.9, 13.2), (226.3, 12.9), (203.3, 12.9), (192.9, 13.8), (159.6, 13.8), (142.9, 13.8), (259.6, 12.2), (295, 12.6), (310.8, 12.5), (317.9, 11.7), (322, 11.4), (329.6, 13.5), (328.3, 10.3),
    (209.6, 12), (222, 11.7), (238.8, 12), (251.3, 11.4), (197.1, 11.4), (184.6, 11.4), (172.1, 12.6), (270, 10.9), (284.6, 10.9), (303.3, 11.1), (313.8, 10.3), (263.8, 10), (292.9, 9.7), (238.8, 10.3), (226.3, 10.6), (211.7, 10.3), (322, 8.5), (303.3, 9.4), (280.4, 8.8), (251.3, 9.1), (305.4, 6.8), (288.8, 6.5), (317.9, 6.2), (267.9, 6.5), (251.3, 6.8), (234.6, 6.8), (217.9, 6.2), (205.4, 6.2), (309.6, 4.7), (292.9, 4.7), (276.3, 5.3), (259.6, 5.3), (242.9, 4.7), (226.3, 4.4), (213.8, 4.7), (326.3, 3.9), (305.4, 3.3), (288.8, 3.6), (272.1, 3.3), (255.4, 3.6), (240.8, 3.3), (222.1, 3), (197.1, 2.7), (317.9, 2.1), (295, 2.1), (280.4, 2.1), (261.7, 2.1), (247.1, 1.8), (230.4, 2.1), (209.6, 1.5), (309.6, 1.5), (328.3, 1.5),
    (431.2, 51.8), (337.1, 38.4), (358.7, 36), (374.2, 36.3), (326.2, 32), (332.5, 32.2), (347.9, 32.5), (395.4, 31.5), (477.5, 32), (514.6, 34), (534.6, 32), (730.4, 40), (730.4, 30.2), (333.7, 25.9), (395.4, 23.4), (431.2, 24.2), (382.5, 21.1), (384.6, 20.4), (377.5, 18.3), (382.5, 17.5), (377.5, 17), (370.8, 17.3), (330.4, 17.5), (468.3, 16.9), (472.9, 16), (497.9, 16.5), (367.1, 14.7), (347.9, 14.5), (331.2, 13.7), (345, 13.7), (348.3, 13.8), (370, 13.2), (412.1, 13.5), (444.6, 13.7), (355.4, 12.9), (331.7, 12.9), (462.1, 12.1), (400.4, 12.1), (408.3, 11.9), (378.7, 12), (334.6, 11.7), (342.9, 11.7), (322.9, 11.6), (447.1, 11.7), (487.1, 11.7), (510.8, 11.5), (361.6, 11.6), (428.7, 11.3), (347.9, 10.6), (389.6, 10.7), (405.4, 10.6), (328.7, 10.4), (434.6, 10.2), (532.5, 10.2), (412.9, 9.9), (461.7, 9.7), (470, 10), (474.2, 9.5), (451.2, 9.3), (345, 9.4), (355.4, 9.1), (365.8, 9.2), (388.7, 9), (553.7, 9.2), (636.6, 9), (699.6, 9.5), (643.7, 8.5), (531.2, 8.5), (417.9, 8.5), (438.7, 8.4), (565.8, 8.2), (635.4, 7.5), (681.7, 8.1), (457.5, 8.1), (492.9, 8.2), (545, 8.1), (607.5, 7.9), (604.6, 7.4), (612.9, 7.2), (347.1, 7.9), (359.6, 7.6), (374.2, 7.4), (401.2, 7.9), (411.7, 7.4), (430.4, 7.6), (451.2, 7.1), (476.2, 7.1), (499.2, 7.4), (517.9, 7.1), (534.6, 7.4), (692.9, 7.2), (686.6, 6.5), (713.7, 6.7), (711.7, 5.9), (559.6, 6.5), (574.2, 6.3), (592.9, 6.3), (595, 5.7), (665.8, 5.7), (658.3, 5.8), (650, 5.4), (678.3, 6.2), (675, 4.8), (687.9, 4.7), (703.3, 4.9), (625.4, 5.3), (615.8, 4.7), (608.7, 5.7), (605.4, 4), (593.7, 4.7), (577.5, 3.9), (653.3, 4.3), (622.9, 4), (639.2, 4.8), (540.8, 5), (551.2, 6.2), (528.3, 6.8), (505.4, 6.5), (484.6, 5.9), (459.6, 5.6), (430.4, 5.9), (413.7, 5.6), (392.9, 5.9), (367.9, 5.3), (351.2, 5.9), (330.4, 5.3), (320, 6.2),
    (513.7, 4.1), (495, 3.9), (482.5, 4.1), (459.6, 3.9), (436.7, 4.4), (415.8, 3.9), (397, 4.7), (376.2, 3.6), (357.5, 4.1), (336.6, 3.3), (322, 3.9), (638.7, 3.3), (626.2, 2.1), (649.2, 2.2), (688.7, 2.7), (701.2, 2.4), (709.6, 3.3), (680.4, 2.4), (684.6, 1.5), (666.7, 1.4), (657.5, 0.9), (638.7, 1.2), (622.1, 1.9), (605.4, 1.9), (595, 1.9), (587.9, 1.9), (578.3, 3.6), (566.7, 2.2), (557.5, 1.5), (547.1, 1.8), (534.6, 3), (524.2, 2.7), (513.7, 1.5), (497.1, 1.5), (484.6, 0.9), (474.2, 2.1), (459.6, 2.1), (442.9, 2.1), (426.2, 2.4), (409.6, 2.7), (392.9, 2.7), (376.2, 2.1), (359.6, 2.7), (342.9, 2.4), (326.2, 2.1), (451.2, 1.2), (422.1, 1.2), (401.2, 1.2), (384.6, 1.5), (365.8, 1.2), (349.2, 1.2), (332.5, 1.2), (715.8, 0.6), (728.3, 1.3),
    (730.4, 13.5), (730.4, 12.9), (730.4, 12.3), (730.4, 11.7),
]
p3_extra = [
    (62, 34), (70, 31), (75, 29.5), (85, 30), (90, 27), (95, 25.7), (100, 27.5), (110, 28.3), (122, 30.5), (100, 23.5), (112, 24), (125, 25.7), (138, 24), (110, 21), (122, 22), (135, 21.2), (148, 20.5), (160, 21.2), (95, 20.6), (105, 19), (118, 18.8), (128, 19.8), (142, 18.7), (155, 19.8), (168, 19), (172, 18), (115, 17), (132, 16.8), (148, 16.2), (158, 17.4), (172, 16), (178, 15), (195, 14.8), (120, 15), (128, 14.5), (135, 14.8), (150, 15), (165, 14.7), (182, 13.8), (148, 12.8), (160, 12.5), (178, 12.5), (195, 12.3), (215, 12.6), (232, 12.4), (255, 12.7),
    (165, 11), (178, 10), (190, 10), (200, 10.6), (218, 10.8), (232, 10.5), (245, 11), (258, 9.8), (272, 9.3), (285, 9.5), (298, 10.2), (310, 8.9), (325, 7.5), (170, 8.8), (185, 8.5), (198, 8.9), (210, 8.6), (225, 9), (240, 8.3), (265, 8.2), (275, 7.4), (295, 8.1), (312, 7.5), (190, 6.8), (200, 7.3), (212, 7.2), (228, 7.8), (245, 7.3), (258, 7.7), (282, 6.8), (298, 6.4), (325, 6), (195, 5), (208, 4.8), (220, 5.2), (235, 5.4), (250, 5.1), (268, 4.3), (282, 4.5), (300, 5.2), (318, 4.3), (205, 3.4), (215, 3.2), (232, 3.4), (248, 3.1), (265, 3.2), (280, 3.4), (298, 3), (314, 3.4), (215, 1.8), (238, 1.6), (255, 1.7), (272, 1.3), (290, 1.4), (320, 1.2),
    (335, 9.5), (340, 8.6), (352, 7.8), (368, 8.4), (378, 9.8), (382, 8.5), (395, 8.9), (405, 8.6), (425, 9), (440, 9.6), (334, 6.7), (340, 6.4), (358, 6.3), (372, 6.3), (383, 6.8), (402, 6.8), (420, 6.6), (440, 6.7), (462, 6.8), (335, 4.4), (348, 4.6), (365, 4.4), (385, 4.2), (405, 4.3), (425, 4.6), (445, 5), (470, 5), (340, 2.8), (352, 3.1), (368, 3), (385, 3.2), (400, 3.3), (418, 3), (435, 3.1), (452, 3.2), (338, 1.8), (355, 1.6), (372, 1.4), (392, 1.3), (412, 1.6), (432, 1.4),
    (4, 52), (14, 52.5), (18, 53), (24, 52.3), (17, 49.5), (22, 48.5), (28, 47.5), (36, 46.3), (36, 44.5), (41, 43.5), (45, 41), (48, 38.8), (52, 38), (42, 37), (50, 35.8), (55, 34), (62, 33.6), (68, 31.2), (46, 32.5), (53, 31), (58, 29.5), (63, 28), (68, 26.5), (75, 25.5), (80, 25), (85, 23.5), (92, 22.8),
]
p3_band_x = [0, 8, 12, 16, 22, 30, 34, 40, 45, 50, 55, 60, 70, 80, 90, 100, 110, 120, 130, 140, 150, 160, 170, 180, 190, 200, 210, 220, 230, 240, 250]
p3_band_lo = [0] * 31
p3_band_hi = [54, 54, 50, 48, 46, 46, 41, 42, 35, 36, 29, 31, 25, 26, 20, 21, 16, 17, 13, 14, 11, 12, 9, 10, 7, 8, 5, 6, 3, 4, 1]
p3_rows_y = [53.9, 0, 0, 0, 0, 0, 0, 0]
p3_rows_start = [0, 0, 474, 526, 558, 593, 610, 714]
p3_rows_end = [55, 460, 518, 547, 585, 605, 708, 730]
p3_cols_x = [730.4]
p3_cols_start = [0]
p3_cols_end = [11]
p3_trend_x = [3, 120, 300, 500, 600, 730]
p3_trend_y = [13.4, 10.9, 7.1, 2.85, 0.72, -2.05]
p3_trend_se = [0.35, 0.2, 0.15, 0.25, 0.4, 0.65]


def draw_panel(box, xlim, ylim, xticks, yticks, xminor, yminor, xlabel, ylabel,
               points, band, rows, cols, trend, title_size, xlabel_pos, ylabel_pad,
               title="Gráfico de Linha de Tendência"):
    left, top, right, bottom = box
    ax = fig.add_axes([left / W, 1 - bottom / H, (right - left) / W, (bottom - top) / H])
    ax.set_facecolor("#EBEBEB")
    ax.set_xlim(xlim)
    ax.set_ylim(ylim)
    ax.set_xticks(xticks)
    ax.set_yticks(yticks)
    ax.set_xticks(xminor, minor=True)
    ax.set_yticks(yminor, minor=True)
    ax.grid(which="major", color="white", linewidth=1.0)
    ax.grid(which="minor", color="white", linewidth=0.5)
    ax.set_axisbelow(True)
    for s in ax.spines.values():
        s.set_visible(False)
    ax.tick_params(which="major", length=2.2, width=0.8, color="#333333", labelcolor="#4D4D4D", labelsize=8.8)
    ax.tick_params(axis="x", which="major", pad=3.6)
    ax.tick_params(axis="y", which="major", pad=1.6)
    ax.tick_params(which="minor", length=0)
    fig.text(xlabel_pos[0] / W, 1 - xlabel_pos[1] / H, xlabel, fontsize=11, color="#111111", ha="center", va="center")
    ax.set_ylabel(ylabel, fontsize=10.8, color="#111111", labelpad=ylabel_pad)
    ax.set_title(title, loc="left", fontsize=title_size, color="black", pad=6)

    # saturated parts of the cloud
    bx, blo, bhi = band
    ax.fill_between(bx, blo, bhi, color="black", linewidth=0, zorder=2)
    ry, rs, re = rows
    ax.hlines(ry, rs, re, color="black", linewidth=3.6, capstyle="round", zorder=2)
    cx, cs, ce = cols
    ax.vlines(cx, cs, ce, color="black", linewidth=3.6, capstyle="round", zorder=2)

    xs = [p[0] for p in points]
    ys = [p[1] for p in points]
    ax.scatter(xs, ys, s=18, color="black", linewidths=0, zorder=3)

    tx, ty, se = trend
    ax.fill_between(tx, [y - e for y, e in zip(ty, se)], [y + e for y, e in zip(ty, se)],
                    color="#999999", alpha=0.5, linewidth=0, zorder=4)
    ax.plot(tx, ty, color="#3366FF", linewidth=1.6, zorder=5)
    return ax


fig = plt.figure(figsize=(W / 100, H / 100), dpi=100)

draw_panel((48.5, 30, 692, 393.5), (-32.6, 70.3), (-2.5, 56.6), [-25, 0, 25, 50], [0, 20, 40],
           [-12.5, 12.5, 37.5, 62.5], [10, 30, 50], "LLPA", "P", p1_points + p1_extra,
           (p1_band_x, [0] * len(p1_band_x), p1_band_hi),
           (p1_rows_y, p1_rows_start, p1_rows_end),
           (p1_cols_x, p1_cols_start, p1_cols_end),
           (p1_trend_x, p1_trend_y, p1_trend_se), 12.65, (375, 423), 3)

draw_panel((68.5, 498.7, 692, 847.7), (-35.3, 765), (-32.4, 72.1), [0, 200, 400, 600], [-25, 0, 25, 50],
           [100, 300, 500, 700], [-12.5, 12.5, 37.5, 62.5], "PLPA", "LLPA", p2_points + p2_extra,
           (p2_band_x, p2_band_lo, p2_band_hi),
           (p2_rows_y, p2_rows_start, p2_rows_end),
           (p2_cols_x, p2_cols_start, p2_cols_end),
           (p2_trend_x, p2_trend_y, p2_trend_se), 12.2, (380.5, 876), -0.6)

draw_panel((57.7, 951.7, 692, 1307.7), (-35, 758), (-5.67, 56.7), [0, 200, 400, 600], [0, 20, 40],
           [100, 300, 500, 700], [10, 30, 50], "PLPA", "P", p3_points + p3_extra,
           (p3_band_x, p3_band_lo, p3_band_hi),
           (p3_rows_y, p3_rows_start, p3_rows_end),
           (p3_cols_x, p3_cols_start, p3_cols_end),
           (p3_trend_x, p3_trend_y, p3_trend_se), 12.4, (378, 1337), 3)

fig.savefig("out.png", dpi=100)
